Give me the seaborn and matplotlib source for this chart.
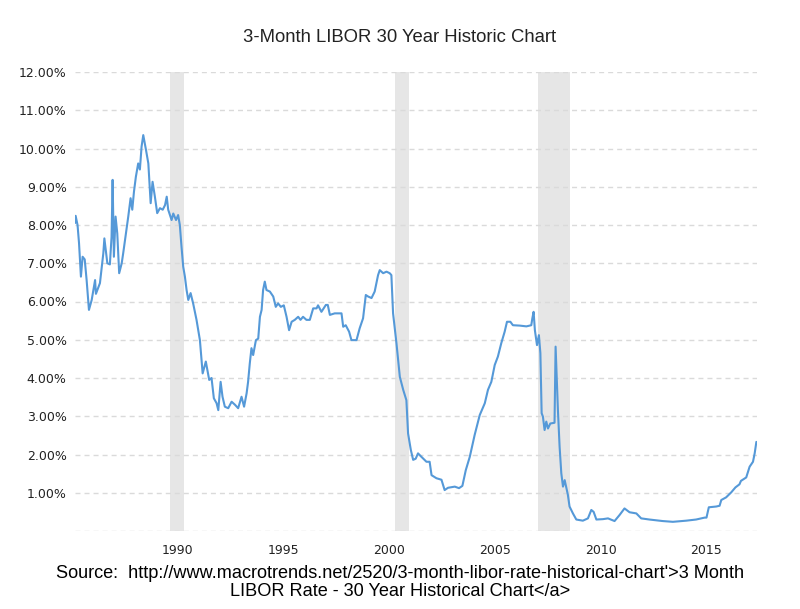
import matplotlib
matplotlib.use("Agg")
import matplotlib.pyplot as plt
import seaborn as sns
import pandas as pd
from matplotlib.ticker import FixedLocator, FuncFormatter

# ---- data (decimal year, 3-month LIBOR %) ----
years = [
    1985.13, 1985.16, 1985.25, 1985.32, 1985.41, 1985.49, 1985.59, 1985.68, 1985.79, 1985.92,
    1986.08, 1986.12, 1986.31, 1986.47, 1986.52, 1986.60, 1986.66, 1986.78, 1986.86, 1986.91,
    1986.97, 1987.05, 1987.13, 1987.22, 1987.34, 1987.41, 1987.53, 1987.65, 1987.76, 1987.84,
    1987.92, 1988.01, 1988.12, 1988.20, 1988.28, 1988.36, 1988.49, 1988.60, 1988.64, 1988.71,
    1988.80, 1988.91, 1989.02, 1989.15, 1989.28, 1989.39, 1989.47, 1989.54, 1989.70, 1989.78,
    1989.91, 1990.01, 1990.09, 1990.17, 1990.25, 1990.33, 1990.41, 1990.49, 1990.60, 1990.72,
    1990.88, 1991.04, 1991.17, 1991.32, 1991.48, 1991.59, 1991.70, 1991.83, 1991.91, 1992.02,
    1992.11, 1992.22, 1992.38, 1992.54, 1992.70, 1992.85, 1993.01, 1993.13, 1993.25, 1993.32,
    1993.40, 1993.48, 1993.56, 1993.69, 1993.80, 1993.88, 1993.96, 1994.03, 1994.11, 1994.19,
    1994.35, 1994.51, 1994.63, 1994.74, 1994.87, 1995.01, 1995.14, 1995.26, 1995.38, 1995.53,
    1995.69, 1995.80, 1995.92, 1996.08, 1996.24, 1996.40, 1996.56, 1996.63, 1996.79, 1997.00,
    1997.09, 1997.19, 1997.42, 1997.74, 1997.82, 1997.94, 1998.10, 1998.21, 1998.45, 1998.60,
    1998.76, 1998.89, 1999.00, 1999.16, 1999.31, 1999.47, 1999.55, 1999.71, 1999.87, 2000.02,
    2000.10, 2000.18, 2000.34, 2000.50, 2000.66, 2000.81, 2000.89, 2001.02, 2001.13, 2001.25,
    2001.36, 2001.52, 2001.76, 2001.91, 2002.00, 2002.23, 2002.47, 2002.62, 2002.78, 2003.10,
    2003.30, 2003.46, 2003.62, 2003.81, 2004.04, 2004.28, 2004.52, 2004.67, 2004.83, 2004.99,
    2005.14, 2005.30, 2005.46, 2005.57, 2005.73, 2005.85, 2006.17, 2006.49, 2006.72, 2006.77,
    2006.83, 2006.89, 2006.99, 2007.08, 2007.15, 2007.21, 2007.27, 2007.35, 2007.43, 2007.51,
    2007.62, 2007.82, 2007.87, 2007.98, 2008.06, 2008.14, 2008.22, 2008.30, 2008.45, 2008.53,
    2008.69, 2008.85, 2009.16, 2009.40, 2009.56, 2009.67, 2009.80, 2010.11, 2010.35, 2010.66,
    2010.90, 2011.13, 2011.37, 2011.69, 2011.92, 2012.31, 2012.94, 2013.42, 2014.05, 2014.52,
    2014.92, 2015.01, 2015.12, 2015.47, 2015.63, 2015.71, 2015.94, 2016.18, 2016.38, 2016.57,
    2016.64, 2016.89, 2017.05, 2017.21, 2017.29, 2017.37,
]
rates = [
    8.05, 8.24, 8.00, 7.53, 6.65, 7.17, 7.10, 6.56, 5.78, 6.04,
    6.56, 6.20, 6.48, 7.26, 7.65, 7.27, 7.00, 6.97, 7.69, 9.18,
    7.17, 8.22, 7.78, 6.74, 7.00, 7.26, 7.74, 8.22, 8.70, 8.40,
    8.87, 9.26, 9.61, 9.45, 10.05, 10.35, 9.96, 9.61, 9.22, 8.57,
    9.13, 8.74, 8.31, 8.44, 8.40, 8.52, 8.74, 8.40, 8.13, 8.30,
    8.13, 8.26, 8.00, 7.43, 6.91, 6.65, 6.30, 6.04, 6.22, 5.95,
    5.52, 4.99, 4.12, 4.43, 3.95, 4.00, 3.47, 3.34, 3.16, 3.90,
    3.51, 3.25, 3.21, 3.38, 3.30, 3.21, 3.51, 3.25, 3.60, 3.90,
    4.38, 4.78, 4.60, 4.99, 5.03, 5.60, 5.78, 6.30, 6.52, 6.30,
    6.26, 6.13, 5.86, 5.95, 5.86, 5.90, 5.60, 5.25, 5.47, 5.52,
    5.60, 5.52, 5.60, 5.52, 5.52, 5.82, 5.82, 5.90, 5.73, 5.91,
    5.91, 5.65, 5.69, 5.69, 5.34, 5.38, 5.21, 4.99, 4.99, 5.30,
    5.56, 6.17, 6.13, 6.09, 6.26, 6.69, 6.82, 6.74, 6.78, 6.74,
    6.69, 5.69, 4.91, 4.03, 3.69, 3.42, 2.55, 2.12, 1.86, 1.89,
    2.03, 1.94, 1.81, 1.81, 1.46, 1.38, 1.34, 1.07, 1.13, 1.16,
    1.12, 1.18, 1.59, 1.94, 2.51, 3.03, 3.34, 3.69, 3.90, 4.34,
    4.56, 4.91, 5.21, 5.47, 5.47, 5.38, 5.37, 5.35, 5.38, 5.56,
    5.73, 5.25, 4.86, 5.12, 4.65, 3.08, 2.99, 2.64, 2.86, 2.68,
    2.81, 2.83, 4.82, 3.16, 2.20, 1.51, 1.16, 1.33, 0.95, 0.64,
    0.46, 0.30, 0.27, 0.33, 0.55, 0.50, 0.30, 0.31, 0.33, 0.26,
    0.42, 0.59, 0.49, 0.46, 0.33, 0.30, 0.26, 0.24, 0.27, 0.30,
    0.35, 0.35, 0.62, 0.64, 0.66, 0.81, 0.88, 1.01, 1.14, 1.22,
    1.31, 1.40, 1.68, 1.81, 2.03, 2.33,
]

recession_starts = [1989.62, 2000.29, 2007.04]
recession_ends = [1990.28, 2000.94, 2008.53]

x_ticks = [1990, 1995, 2000, 2005, 2010, 2015]
y_ticks = [1, 2, 3, 4, 5, 6, 7, 8, 9, 10, 11, 12]
grid_levels = [0] + y_ticks

title_text = "3-Month LIBOR 30 Year Historic Chart"
source_line1 = "Source:  http://www.macrotrends.net/2520/3-month-libor-rate-historical-chart'>3 Month"
source_line2 = "LIBOR Rate - 30 Year Historical Chart</a>"

df = pd.DataFrame({"year": years, "rate": rates})

sns.set_theme(style="white")
plt.rcParams["font.family"] = ["DejaVu Sans"]

fig = plt.figure(figsize=(8.0, 6.09), dpi=100)
ax = fig.add_axes([75 / 800, 1 - 531 / 609, (757 - 75) / 800, (531 - 72) / 609])

for s, e in zip(recession_starts, recession_ends):
    ax.axvspan(s, e, color="#e6e6e6", lw=0, zorder=0)

for g in grid_levels:
    ax.axhline(g, color="#dadada", lw=1.0, dashes=(3.6, 2.9), zorder=1)

sns.lineplot(data=df, x="year", y="rate", ax=ax, color="#5599d8", lw=1.5, zorder=3)

ax.set_xlim(1985.13, 2017.40)
ax.set_ylim(0, 12)
ax.xaxis.set_major_locator(FixedLocator(x_ticks))
ax.yaxis.set_major_locator(FixedLocator(y_ticks))
ax.yaxis.set_major_formatter(FuncFormatter(lambda v, p: f"{v:.2f}%"))
ax.set_xlabel("")
ax.set_ylabel("")
ax.tick_params(axis="both", length=0, labelsize=9, colors="#222222")
ax.tick_params(axis="y", pad=6)
ax.tick_params(axis="x", pad=9)
for sp in ax.spines.values():
    sp.set_visible(False)
ax.grid(False)

fig.text(0.5, 1 - 38 / 609, title_text, ha="center", va="center",
         fontsize=13.3, family=["Liberation Sans"], color="#222222")
fig.text(0.5, 1 - 573 / 609, source_line1, ha="center", va="center",
         fontsize=13.1, family=["Liberation Sans"], color="black")
fig.text(0.5, 1 - 591 / 609, source_line2, ha="center", va="center",
         fontsize=13.1, family=["Liberation Sans"], color="black")

fig.savefig("out.png", dpi=100)
